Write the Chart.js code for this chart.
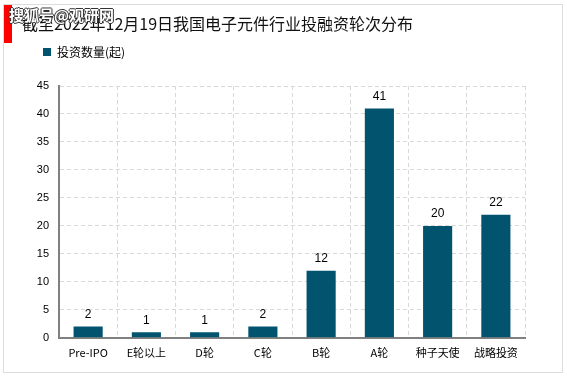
<!DOCTYPE html>
<html>
<head>
<meta charset="utf-8">
<script src="https://cdn.jsdelivr.net/npm/chart.js@4.4.1/dist/chart.umd.min.js"></script>
<style>
  html, body { margin: 0; padding: 0; background: #fff; }
  #wrap { position: relative; width: 567px; height: 378px; font-family: "Noto Sans CJK SC", "Liberation Sans", sans-serif; }
  #frame { position: absolute; left: 3px; top: 4px; width: 558px; height: 367px; border: 1px solid #dcdcdc; }
  #redbar { position: absolute; left: 4px; top: 5px; width: 8px; height: 38px; background: #ff0000; }
  #title { position: absolute; left: 22px; top: 11px; font-size: 16px; color: #111; white-space: nowrap; }
  #mark { position: absolute; left: 9px; top: 4px; font-size: 15px; color: #fff; font-weight: bold;
          text-shadow: -1px 0 #333, 1px 0 #333, 0 -1px #333, 0 1px #333; white-space: nowrap; }
  canvas { position: absolute; left: 0; top: 0; }
</style>
</head>
<body>
<div id="wrap">
  <div id="frame"></div>
  <canvas id="grafico" width="567" height="378"></canvas>
  <div id="redbar"></div>
  <div id="title">截至2022年12月19日我国电子元件行业投融资轮次分布</div>
  <div id="mark">搜狐号@观研网</div>
</div>
<script>
// dados do gráfico
const categorias = ['Pre-IPO', 'E轮以上', 'D轮', 'C轮', 'B轮', 'A轮', '种子天使', '战略投资'];
const quantidades = [2, 1, 1, 2, 12, 41, 20, 22];
const nomeSerie = '投资数量(起)';

// rótulos de valor acima das barras
const rotulos = {
    id: 'rotulos',
    afterDatasetsDraw(chart) {
        const ctx = chart.ctx;
        const meta = chart.getDatasetMeta(0);
        ctx.save();
        ctx.font = '12px "Liberation Sans", sans-serif';
        ctx.fillStyle = '#000';
        ctx.textAlign = 'center';
        ctx.textBaseline = 'bottom';
        meta.data.forEach((bar, i) => {
            ctx.fillText(quantidades[i], bar.x, bar.y - 6);
        });
        ctx.restore();
    }
};

// espaço extra abaixo da legenda
const espacoLegenda = {
    id: 'espacoLegenda',
    afterInit(chart) {
        const fitOriginal = chart.legend.fit;
        chart.legend.fit = function () {
            fitOriginal.bind(chart.legend)();
            this.height += 18;
        };
    }
};

const ctx = document.getElementById('grafico').getContext('2d');
new Chart(ctx, {
    type: 'bar',
    data: {
        labels: categorias,
        datasets: [{
            label: nomeSerie,
            data: quantidades,
            backgroundColor: '#02546e',
            borderWidth: 0,
            barPercentage: 0.5,
            categoryPercentage: 1
        }]
    },
    options: {
        responsive: false,
        animation: false,
        layout: { padding: { left: 33, right: 42, top: 36, bottom: 11 } },
        plugins: {
            title: { display: false },
            tooltip: { enabled: false },
            legend: {
                position: 'top',
                align: 'start',
                labels: {
                    boxWidth: 8,
                    boxHeight: 8,
                    color: '#000',
                    font: { size: 12, family: '"Noto Sans CJK SC", sans-serif' }
                }
            }
        },
        scales: {
            x: {
                grid: { color: '#d9d9d9', drawTicks: false, offset: true },
                border: { color: '#808080', width: 2, dash: [4, 3] },
                ticks: { color: '#000', padding: 8, font: { size: 11, family: '"Noto Sans CJK SC", sans-serif' } }
            },
            y: {
                min: 0,
                max: 45,
                ticks: { stepSize: 5, color: '#000', padding: 10, font: { size: 11, family: '"Liberation Sans", sans-serif' } },
                grid: { color: '#d9d9d9', drawTicks: false },
                border: { color: '#808080', width: 2, dash: [4, 3] },
                afterFit(scale) { scale.width = 26; }
            }
        }
    },
    plugins: [rotulos, espacoLegenda]
});
</script>
</body>
</html>
